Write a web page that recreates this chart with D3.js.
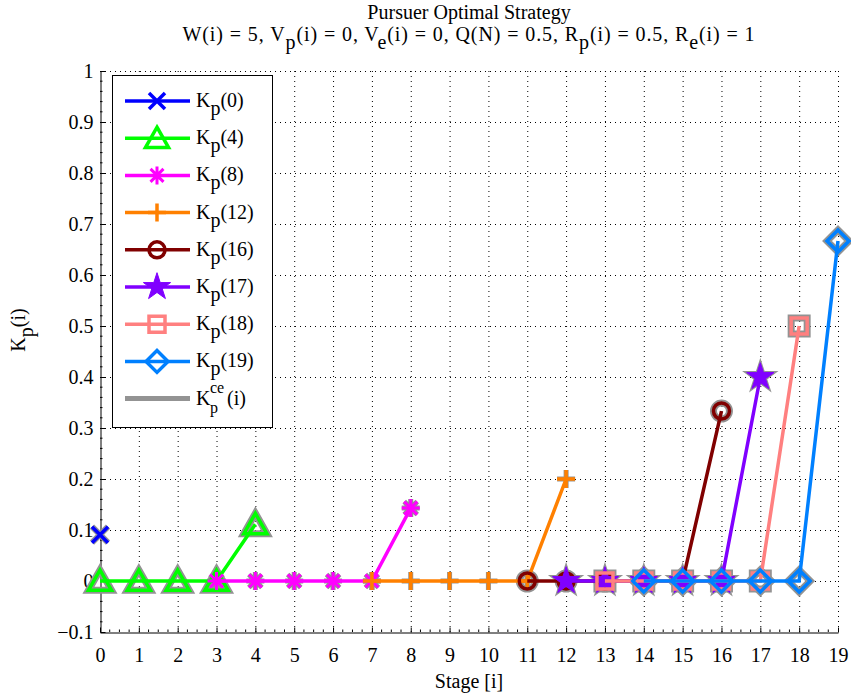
<!DOCTYPE html>
<html><head><meta charset="utf-8">
<script src="https://cdn.jsdelivr.net/npm/d3@7"></script>
<style>body{margin:0;background:#fff}svg{display:block}svg text{font-family:"Liberation Serif","Times New Roman",Times,"DejaVu Serif",serif !important;fill:#000}</style>
</head><body><svg id="c" width="851" height="698" font-family="Liberation Serif, serif"></svg>
<script>
// ---- data ----
const seriesNames = ["0","4","8","12","16","17","18","19"];
const seriesStages = [
  [0],
  [0,1,2,3,4],
  [3,4,5,6,7,8],
  [7,8,9,10,11,12],
  [11,12,13,14,15,16],
  [12,13,14,15,16,17],
  [13,14,15,16,17,18],
  [14,15,16,17,18,19]
];
const seriesValues = [
  [0.0909],
  [0,0,0,0,0.1111],
  [0,0,0,0,0,0.1429],
  [0,0,0,0,0,0.2],
  [0,0,0,0,0,0.3333],
  [0,0,0,0,0,0.4],
  [0,0,0,0,0,0.5],
  [0,0,0,0,0,0.6667]
];
const seriesColors = ["#0000ff","#00ff00","#ff00ff","#ff8000","#800000","#8000ff","#ff8080","#0080ff"];
const seriesMarkers = ["x","tri","ast","plus","circ","star","sq","dia"];
const ceColor = "#939393";
const xTicks = d3.range(0,20,1);
const yTicks = [-0.1,0,0.1,0.2,0.3,0.4,0.5,0.6,0.7,0.8,0.9,1];

// ---- layout ----
const FS = 20;
const svg = d3.select("#c");
const x = d3.scaleLinear().domain([0,19]).range([100,838]);
const y = d3.scaleLinear().domain([-0.1,1]).range([632,71]);

// grid
const grid = svg.append("g").attr("stroke","#000").attr("stroke-width",1).attr("stroke-dasharray","1,4");
grid.selectAll(".gx").data(xTicks.slice(1)).join("line")
  .attr("x1",d=>x(d)+0.5).attr("x2",d=>x(d)+0.5).attr("y1",y(-0.1)).attr("y2",y(1));
grid.selectAll(".gy").data(yTicks.slice(1)).join("line")
  .attr("y1",d=>Math.round(y(d))+0.5).attr("y2",d=>Math.round(y(d))+0.5).attr("x1",x(0)).attr("x2",x(19));

// axes
const axX = svg.append("g").attr("transform",`translate(0,${Math.round(y(-0.1))+0.5})`)
  .call(d3.axisBottom(x).tickValues(xTicks).tickSizeInner(-5).tickSizeOuter(0).tickPadding(15).tickFormat(d3.format("d")));
const axY = svg.append("g").attr("transform",`translate(${Math.round(x(0))+0.5},0)`)
  .call(d3.axisLeft(y).tickValues(yTicks).tickSizeInner(-5).tickSizeOuter(0).tickPadding(7)
    .tickFormat(d=>d===0?"0":d===1?"1":(d<0?"\u22120.1":d3.format(".1f")(d))));
[axX,axY].forEach(a=>{a.attr("font-family",null).attr("font-size",null);a.selectAll("text").style("font-size",FS+"px");a.select(".domain").attr("stroke","#000");});
// minor ticks
svg.append("g").selectAll("line").data(d3.range(0,19.01,0.25).filter(v=>Math.abs(v-Math.round(v))>0.01)).join("line")
  .attr("x1",d=>x(d)).attr("x2",d=>x(d)).attr("y1",y(-0.1)).attr("y2",y(-0.1)-2.5).attr("stroke","#000");
svg.append("g").selectAll("line").data(d3.range(-0.1,1.0001,0.02).filter(v=>Math.abs(v*10-Math.round(v*10))>0.01)).join("line")
  .attr("y1",d=>y(d)).attr("y2",d=>y(d)).attr("x1",x(0)).attr("x2",x(0)+2.5).attr("stroke","#000");

// marker paths
function markerPath(type){
  switch(type){
    case "x": {const s=8;return `M${-s},${-s}L${s},${s}M${-s},${s}L${s},${-s}`;}
    case "tri": {const h=11;return `M0,${-h}L${h*1.05},${h*0.85}L${-h*1.05},${h*0.85}Z`;}
    case "ast": {const s=9,d=s*0.72;return `M${-s},0L${s},0M0,${-s}L0,${s}M${-d},${-d}L${d},${d}M${-d},${d}L${d},${-d}`;}
    case "plus": {const s=9;return `M${-s},0L${s},0M0,${-s}L0,${s}`;}
    case "circ": {return d3.symbol(d3.symbolCircle, Math.PI*8*8)();}
    case "star": {return d3.symbol(d3.symbolStar, 230)();}
    case "sq": {const s=8;return `M${-s},${-s}H${s}V${s}H${-s}Z`;}
    case "dia": {const s=11;return `M0,${-s}L${s},0L0,${s}L${-s},0Z`;}
  }
}
const grayW = {x:6,tri:7,ast:5,plus:5,circ:7,star:3,sq:7,dia:7};
const colW = {x:3.5,tri:3.5,ast:3,plus:3.5,circ:3.5,star:1,sq:3.5,dia:3.5};
const line = d3.line().x(d=>x(d[0])).y(d=>y(d[1]));
const plot = svg.append("g");
// gray ce underlay markers
seriesNames.forEach((n,k)=>{
  const pts = seriesStages[k].map((s,i)=>[s,seriesValues[k][i]]);
  const m = seriesMarkers[k];
  plot.append("g").selectAll("path").data(pts).join("path")
    .attr("transform",d=>`translate(${x(d[0])},${y(d[1])})`)
    .attr("d",markerPath(m)).attr("stroke",ceColor).attr("stroke-width",grayW[m])
    .attr("fill",m==="star"?ceColor:"none").attr("stroke-linejoin","miter");
});
// colored series
seriesNames.forEach((n,k)=>{
  const pts = seriesStages[k].map((s,i)=>[s,seriesValues[k][i]]);
  const m = seriesMarkers[k], c = seriesColors[k];
  const g = plot.append("g");
  if(pts.length>1) g.append("path").datum(pts).attr("d",line).attr("fill","none").attr("stroke",c).attr("stroke-width",3.5);
  g.selectAll("path.m").data(pts).join("path").attr("class","m")
    .attr("transform",d=>`translate(${x(d[0])},${y(d[1])})`)
    .attr("d",markerPath(m)).attr("stroke",c).attr("stroke-width",colW[m])
    .attr("fill",m==="star"?c:"none");
});

// legend
const lg = svg.append("g");
lg.append("rect").attr("x",112.5).attr("y",75.5).attr("width",160).attr("height",352).attr("fill","#fff").attr("stroke","#000").attr("stroke-width",1);
const legY = i=>101+i*37.2;
seriesNames.forEach((n,k)=>{
  const yy=legY(k);
  lg.append("line").attr("x1",125).attr("x2",190).attr("y1",yy).attr("y2",yy).attr("stroke",seriesColors[k]).attr("stroke-width",3.5);
  lg.append("path").attr("transform",`translate(157,${yy})`).attr("d",markerPath(seriesMarkers[k]))
    .attr("stroke",seriesColors[k]).attr("stroke-width",colW[seriesMarkers[k]])
    .attr("fill",seriesMarkers[k]==="star"?seriesColors[k]:"none");
  const t = lg.append("text").attr("x",196).attr("y",yy+6).style("font-size",FS+"px");
  t.append("tspan").text("K");
  t.append("tspan").attr("dy",8).text("p");
  t.append("tspan").attr("dy",-8).text(`(${n})`);
});
{
  const yy=legY(8);
  lg.append("line").attr("x1",125).attr("x2",190).attr("y1",yy).attr("y2",yy).attr("stroke",ceColor).attr("stroke-width",5);
  lg.append("text").attr("x",196).attr("y",yy+6).style("font-size",FS+"px").text("K");
  lg.append("text").attr("x",210).attr("y",yy-6).style("font-size","16px").text("ce");
  lg.append("text").attr("x",210).attr("y",yy+14).style("font-size","16px").text("p");
  lg.append("text").attr("x",227).attr("y",yy+6).style("font-size",FS+"px").text("(i)");
}

// titles
svg.append("text").attr("x",469).attr("y",19).attr("text-anchor","middle").style("font-size",FS+"px").text("Pursuer Optimal Strategy");
const t2 = svg.append("text").attr("x",469).attr("y",41).attr("text-anchor","middle").style("font-size",FS+"px").style("letter-spacing","0.9px");
[["W(i) = 5, V",0],["p",1],["(i) = 0, V",-1],["e",1],["(i) = 0, Q(N) = 0.5, R",-1],["p",1],["(i) = 0.5, R",-1],["e",1],["(i) = 1",-1]]
  .forEach(([s,d])=>t2.append("tspan").attr("dy",d*8).text(s));
svg.append("text").attr("x",469).attr("y",688).attr("text-anchor","middle").style("font-size",FS+"px").text("Stage [i]");
const yl = svg.append("text").attr("transform","translate(25,330) rotate(-90)").attr("text-anchor","middle").style("font-size",FS+"px");
yl.append("tspan").text("K");
yl.append("tspan").attr("dy",8).text("p");
yl.append("tspan").attr("dy",-8).text("(i)");
</script></body></html>
